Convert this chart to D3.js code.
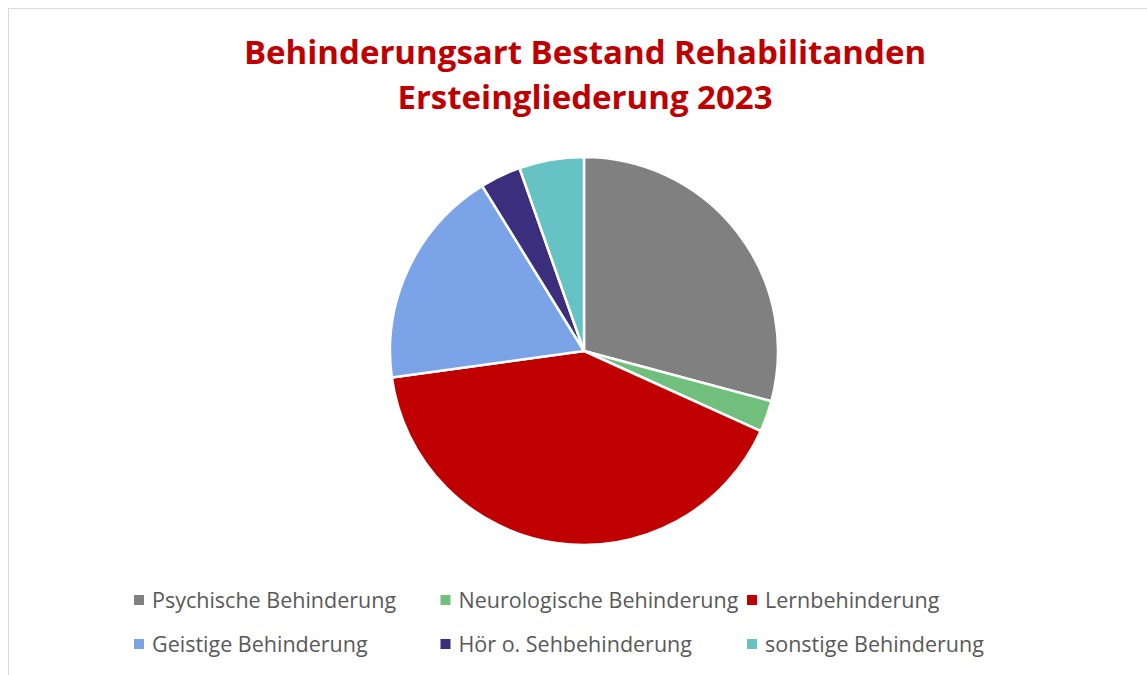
<!DOCTYPE html>
<html>
<head>
<meta charset="utf-8">
<script src="https://cdn.jsdelivr.net/npm/d3@7"></script>
<style>
  body { margin: 0; background: #fff; }
  svg { display: block; }
</style>
</head>
<body>
<div id="chart"></div>
<script>
// values (share in %)
const categories = [
  'Psychische Behinderung',
  'Neurologische Behinderung',
  'Lernbehinderung',
  'Geistige Behinderung',
  'Hör o. Sehbehinderung',
  'sonstige Behinderung',
];
const values = [29.2, 2.6, 41.1, 18.4, 3.4, 5.4];
const colors = ['#808080', '#70BF7C', '#C00000', '#7BA3E8', '#3B2F7D', '#65C3C3'];
const titleLines = ['Behinderungsart Bestand Rehabilitanden', 'Ersteingliederung 2023'];

const width = 1147;
const height = 675;
const font = '"Open Sans", Lato, sans-serif';

const svg = d3.select('#chart').append('svg')
  .attr('width', width)
  .attr('height', height);

// chart area frame
svg.append('rect')
  .attr('x', 8.5)
  .attr('y', 8.5)
  .attr('width', width + 20)
  .attr('height', height + 20)
  .attr('fill', '#fff')
  .attr('stroke', '#D9D9D9')
  .attr('stroke-width', 1);

// title
const title = svg.append('text')
  .attr('text-anchor', 'middle')
  .attr('fill', '#C00000')
  .style('font-family', font)
  .style('font-weight', 700)
  .style('font-size', '33px');
title.selectAll('tspan')
  .data(titleLines)
  .join('tspan')
  .attr('x', 585)
  .attr('y', (d, i) => 64 + i * 45)
  .text(d => d);

// pie
const cx = 584, cy = 351, r = 194;
const pie = d3.pie().sort(null).value(d => d);
const arc = d3.arc().innerRadius(0).outerRadius(r);
const color = d3.scaleOrdinal().domain(categories).range(colors);

svg.append('g')
  .attr('transform', `translate(${cx},${cy})`)
  .selectAll('path')
  .data(pie(values))
  .join('path')
  .attr('d', arc)
  .attr('fill', (d, i) => color(categories[i]))
  .attr('stroke', '#fff')
  .attr('stroke-width', 2.5)
  .attr('stroke-linejoin', 'round');

// legend, 3 per row
const colX = d3.scalePoint().domain([0, 1, 2]).range([134, 747]);
const rowY = d3.scalePoint().domain([0, 1]).range([600, 644]);

const legend = svg.append('g')
  .selectAll('g')
  .data(categories)
  .join('g')
  .attr('transform', (d, i) => `translate(${colX(i % 3)},${rowY(Math.floor(i / 3))})`);

legend.append('rect')
  .attr('x', 0)
  .attr('y', -5)
  .attr('width', 10)
  .attr('height', 10)
  .attr('fill', d => color(d));

legend.append('text')
  .attr('x', 18)
  .attr('y', 0)
  .attr('dy', '0.35em')
  .attr('fill', '#595959')
  .style('font-family', font)
  .style('font-size', '21.5px')
  .text(d => d);
</script>
</body>
</html>
